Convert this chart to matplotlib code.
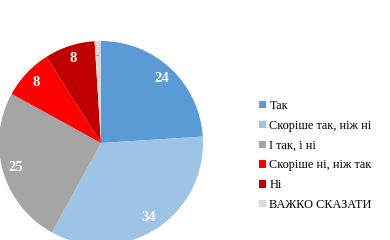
import matplotlib.pyplot as plt
from matplotlib.patches import Patch

labels = ['Так', 'Скоріше так, ніж ні', 'І так, і ні', 'Скоріше ні, ніж так', 'Ні', 'ВАЖКО СКАЗАТИ']
values = [24, 34, 25, 8, 8, 1]
colors = ['#5B9BD5', '#9DC3E6', '#A5A5A5', '#FF0000', '#C00000', '#D9D9D9']

plt.rcParams['font.family'] = ['Liberation Serif', 'DejaVu Serif']

fig = plt.figure(figsize=(3.9, 2.4), dpi=100)
ax = fig.add_axes([-1 / 390, -5 / 240, 204 / 390, 204 / 240])

wedges, texts, autotexts = ax.pie(values, colors=colors, startangle=90, counterclock=False,
                                  autopct='%.0f', pctdistance=0.87,
                                  wedgeprops={'linewidth': 0})
for t in autotexts:
    t.set_color('white')
    t.set_fontweight('bold')
    t.set_fontsize(10.5)
# tiny slice label
autotexts[-1].set_fontsize(5)
autotexts[-1].set_color('#808080')
autotexts[-1].set_rotation(90)
autotexts[-1].set_fontweight('normal')
ax.set_xlim(-1, 1)
ax.set_ylim(-1, 1)
ax.set_aspect('equal')

handles = [Patch(facecolor=c, edgecolor='none') for c in colors]
fig.legend(handles, labels, loc='upper left', bbox_to_anchor=(259 / 390, 1 - 100 / 240),
           frameon=False, fontsize=8.8, handlelength=0.55, handleheight=0.55,
           handletextpad=0.3, labelspacing=0.64, borderpad=0, borderaxespad=0)

fig.savefig('out.png', dpi=100)
